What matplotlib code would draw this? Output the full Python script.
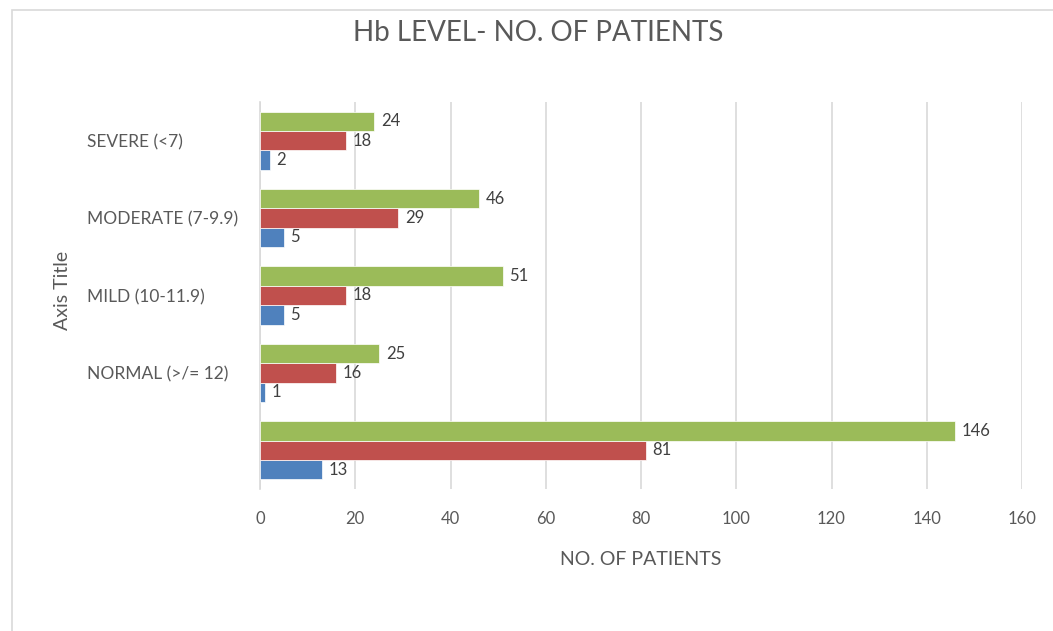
import numpy as np
import matplotlib
matplotlib.use("Agg")
import matplotlib.pyplot as plt
from matplotlib.patches import Rectangle

plt.rcParams['font.family'] = ['Lato', 'DejaVu Sans']

# data (bottom to top)
categories = ["", "NORMAL (>/= 12)", "MILD (10-11.9)", "MODERATE (7-9.9)", "SEVERE (<7)"]
series_blue = [13, 1, 5, 5, 2]
series_red = [81, 16, 18, 29, 18]
series_green = [146, 25, 51, 46, 24]

colors = ["#4F81BD", "#C0504D", "#9BBB59"]
txt_col = "#595959"

fig = plt.figure(figsize=(10.53, 6.31), dpi=100)
# chart area border
fig.patches.append(Rectangle((12 / 1053, -0.1), 1.2, 1 - 10 / 631 + 0.1,
                             transform=fig.transFigure, fill=False,
                             edgecolor="#D9D9D9", linewidth=1.2))

ax = fig.add_axes([260 / 1053, 1 - 489 / 631, (1022 - 260) / 1053, (489 - 102) / 631])

y = np.arange(len(categories))
h = 0.25
for i, vals in enumerate([series_blue, series_red, series_green]):
    pos = y + (i - 1) * h
    ax.barh(pos, vals, height=h, color=colors[i], edgecolor="white", linewidth=0.5, zorder=3)
    for p, v in zip(pos, vals):
        ax.text(v + 1.4, p, str(v), va="center", ha="left", fontsize=12, color="#404040")

ax.set_xlim(0, 160)
ax.set_ylim(-0.5, len(categories) - 0.5)
ax.set_xticks(range(0, 161, 20))
ax.xaxis.grid(True, color="#D9D9D9", linewidth=1.2, zorder=0)
ax.tick_params(axis="x", length=0, pad=16, labelsize=12, labelcolor=txt_col)
ax.set_yticks(y)
ax.set_yticklabels(categories)
ax.tick_params(axis="y", length=0, pad=124.6, labelsize=12.5, labelcolor=txt_col)
for lbl in ax.get_yticklabels():
    lbl.set_ha("left")

for s in ["top", "right", "bottom"]:
    ax.spines[s].set_visible(False)
ax.spines["left"].set_color("#D9D9D9")
ax.spines["left"].set_linewidth(1.2)

ax.set_xlabel("NO. OF PATIENTS", fontsize=14, color=txt_col, labelpad=17)
fig.text(62 / 1053, 1 - 290 / 631, "Axis Title", rotation=90, ha="center", va="center",
         fontsize=14, color=txt_col)
fig.text(538 / 1053, 1 - 33 / 631, "Hb LEVEL- NO. OF PATIENTS", ha="center", va="center",
         fontsize=20, color=txt_col)

plt.savefig("out.png", dpi=100)
